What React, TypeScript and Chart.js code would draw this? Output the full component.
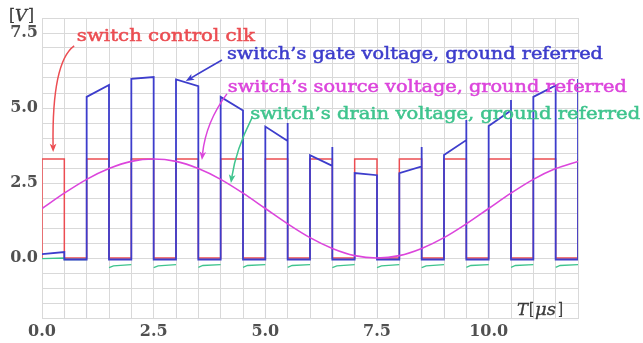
import { useEffect, useRef } from 'react';
import { Chart, registerables } from 'chart.js';

Chart.register(...registerables);

const SERIF = '"DejaVu Serif", "Liberation Serif", serif';

// Labelled ticks (everything in between only carries a grid line)
const timeTicks = [0, 2.5, 5, 7.5, 10];
const voltTicks = [0, 2.5, 5, 7.5];

// Switch control clock: edges in µs, levels in V
const clkRise = [0, 1, 2, 3, 4, 5, 6, 7, 8, 9, 10, 11, 12];
const clkFall = [0.5, 1.5, 2.5, 3.5, 4.5, 5.5, 6.5, 7.5, 8.5, 9.5, 10.5, 11.5];
const clkHigh = 3.3;
const clkLow = 0;

// Gate voltage: one bootstrapped pulse per clock-high phase
const gateRise = [1, 2, 3, 4, 5, 6, 7, 8, 9, 10, 11];
const gateFall = [1.5, 2.5, 3.5, 4.5, 5.5, 6.5, 7.5, 8.5, 9.5, 10.5, 11.5];
const gateStartV = [5.37, 5.97, 5.95, 5.37, 4.38, 3.43, 2.83, 2.83, 3.43, 4.4, 5.37];
const gateEndV = [5.77, 6.03, 5.73, 4.92, 3.9, 3.07, 2.76, 3.05, 3.93, 4.92, 5.75];
const gateFallTopV = [5.77, 6.03, 5.73, 4.92, 4.5, 3.7, 2.76, 3.7, 4.6, 5.27, 5.75];
const gateLowV = -0.05;
const gateFirstT = [0, 0.5];
const gateFirstV = [0.13, 0.2];
const gateLastT = 12;
const gateLastV = 5.97;

// Source voltage (sampled every 0.5 µs)
const srcT = [0, 0.5, 1, 1.5, 2, 2.5, 3, 3.5, 4, 4.5, 5, 5.5, 6, 6.5, 7, 7.5, 8, 8.5, 9, 9.5, 10, 10.5, 11, 11.5, 12];
const srcV = [1.65, 2.16, 2.62, 2.98, 3.22, 3.3, 3.22, 2.98, 2.62, 2.16, 1.65, 1.14, 0.68, 0.32, 0.08, 0.0, 0.08, 0.32, 0.68, 1.14, 1.65, 2.16, 2.62, 2.98, 3.22];

// Drain voltage while the switch is open (clock-low phases)
const drainFirstT = [0, 0.5, 0.5, 1];
const drainFirstV = [-0.02, 0.0, -0.05, -0.05];
const drainFrom = [1.5, 2.5, 3.5, 4.5, 5.5, 6.5, 7.5, 8.5, 9.5, 10.5, 11.5];
const drainKnee = [1.6, 2.6, 3.6, 4.6, 5.6, 6.6, 7.6, 8.6, 9.6, 10.6, 11.6];
const drainTo = [2, 3, 4, 5, 6, 7, 8, 9, 10, 11, 12];
const drainFromV = [-0.32, -0.32, -0.31, -0.31, -0.31, -0.32, -0.32, -0.32, -0.31, -0.31, -0.31];
const drainKneeV = [-0.26, -0.26, -0.25, -0.25, -0.25, -0.26, -0.26, -0.26, -0.25, -0.25, -0.25];
const drainToV = [-0.22, -0.22, -0.22, -0.22, -0.22, -0.22, -0.22, -0.22, -0.22, -0.22, -0.22];

const COLORS = {
  clk: '#ec4d52',
  gate: '#3d3dcc',
  source: '#dc45dc',
  drain: '#3fc48e',
};

type Pt = { x: number; y: number | null };

function clkPoints(): Pt[] {
  const pts: Pt[] = [];
  clkRise.forEach((r, i) => {
    pts.push({ x: r, y: clkLow }, { x: r, y: clkHigh });
    if (i < clkFall.length) pts.push({ x: clkFall[i], y: clkHigh }, { x: clkFall[i], y: clkLow });
  });
  return pts;
}

function gatePoints(): Pt[] {
  const pts: Pt[] = gateFirstT.map((t, i) => ({ x: t, y: gateFirstV[i] }));
  pts.push({ x: gateFirstT[1], y: gateLowV });
  gateRise.forEach((r, i) => {
    pts.push(
      { x: r, y: gateLowV },
      { x: r, y: gateStartV[i] },
      { x: gateFall[i], y: gateEndV[i] },
      { x: gateFall[i], y: gateFallTopV[i] },
      { x: gateFall[i], y: gateLowV },
    );
  });
  pts.push({ x: gateLastT, y: gateLowV }, { x: gateLastT, y: gateLastV });
  return pts;
}

function drainPoints(): Pt[] {
  const pts: Pt[] = drainFirstT.map((t, i) => ({ x: t, y: drainFirstV[i] }));
  drainFrom.forEach((f, i) => {
    pts.push({ x: f - 0.01, y: null });
    pts.push({ x: f, y: drainFromV[i] }, { x: drainKnee[i], y: drainKneeV[i] }, { x: drainTo[i], y: drainToV[i] });
  });
  return pts;
}

// Callout texts (anchor: left edge / vertical centre, in axis units) and their arrows
const notes = [
  { text: 'switch control clk', color: COLORS.clk, x: 0.78, y: 7.37, width: 178 },
  { text: 'switch\u2019s gate voltage, ground referred', color: COLORS.gate, x: 4.14, y: 6.77, width: 376 },
  { text: 'switch\u2019s source voltage, ground referred', color: COLORS.source, x: 4.16, y: 5.67, width: 399 },
  { text: 'switch\u2019s drain voltage, ground referred', color: COLORS.drain, x: 4.66, y: 4.77, width: 390 },
];

const arrows = [
  { color: COLORS.clk, from: [0.72, 7.07], via: [0.22, 6.53], to: [0.25, 3.53] },
  { color: COLORS.gate, from: [4.03, 6.6], via: [3.62, 6.25], to: [3.22, 5.9] },
  { color: COLORS.source, from: [4.14, 5.47], via: [3.67, 4.53], to: [3.58, 3.27] },
  { color: COLORS.drain, from: [4.7, 4.67], via: [4.34, 3.6], to: [4.23, 2.5] },
];

function fitText(
  ctx: CanvasRenderingContext2D,
  text: string,
  x: number,
  y: number,
  width: number,
  font: string,
  weight = 0,
) {
  ctx.font = font;
  const w = ctx.measureText(text).width;
  ctx.save();
  ctx.translate(x, y);
  ctx.scale(width / w, 1);
  ctx.fillText(text, 0, 0);
  if (weight > 0) {
    ctx.lineWidth = weight;
    ctx.strokeStyle = ctx.fillStyle;
    ctx.strokeText(text, 0, 0);
  }
  ctx.restore();
}

const calloutPlugin = {
  id: 'callouts',
  afterDatasetsDraw(chart: any) {
    const { ctx, scales, chartArea } = chart;
    const px = (v: number) => scales.x.getPixelForValue(v);
    const py = (v: number) => scales.y.getPixelForValue(v);
    ctx.save();
    ctx.textBaseline = 'middle';
    ctx.textAlign = 'left';

    notes.forEach((n) => {
      ctx.fillStyle = n.color;
      fitText(ctx, n.text, px(n.x), py(n.y), n.width, `17px ${SERIF}`, 0.5);
    });

    arrows.forEach((a) => {
      const [fx, fy] = [px(a.from[0]), py(a.from[1])];
      const [cx, cy] = [px(a.via[0]), py(a.via[1])];
      const [tx, ty] = [px(a.to[0]), py(a.to[1])];
      ctx.strokeStyle = a.color;
      ctx.fillStyle = a.color;
      ctx.lineWidth = 1.5;
      const ang = Math.atan2(ty - cy, tx - cx);
      const len = 9;
      const bx = tx - Math.cos(ang) * len * 0.7;
      const by = ty - Math.sin(ang) * len * 0.7;
      ctx.beginPath();
      ctx.moveTo(fx, fy);
      ctx.quadraticCurveTo(cx, cy, bx, by);
      ctx.stroke();
      ctx.beginPath();
      ctx.moveTo(tx, ty);
      ctx.lineTo(tx - Math.cos(ang - 0.38) * len, ty - Math.sin(ang - 0.38) * len);
      ctx.lineTo(bx, by);
      ctx.lineTo(tx - Math.cos(ang + 0.38) * len, ty - Math.sin(ang + 0.38) * len);
      ctx.closePath();
      ctx.fill();
    });

    // axis titles
    ctx.fillStyle = '#3a3a3a';
    fitText(ctx, '[', chartArea.left - 33, chartArea.top - 1, 6, `16px ${SERIF}`, 0.3);
    fitText(ctx, 'V', chartArea.left - 27, chartArea.top - 1, 12, `italic 16px ${SERIF}`, 0.3);
    fitText(ctx, ']', chartArea.left - 14, chartArea.top - 1, 6, `16px ${SERIF}`, 0.3);

    const tx0 = chartArea.right - 61;
    const ty0 = chartArea.bottom - 7;
    fitText(ctx, 'T', tx0, ty0, 11, `italic 16px ${SERIF}`, 0.3);
    fitText(ctx, '[', tx0 + 12, ty0, 5, `16px ${SERIF}`, 0.3);
    fitText(ctx, '\u03bcs', tx0 + 18, ty0, 21, `italic 16px ${SERIF}`, 0.3);
    fitText(ctx, ']', tx0 + 41, ty0, 5, `16px ${SERIF}`, 0.3);
    ctx.restore();
  },
};

const near = (list: number[], v: number) => list.some((t) => Math.abs(t - v) < 1e-6);

export default function App() {
  const ref = useRef<HTMLCanvasElement>(null);

  useEffect(() => {
    document.body.style.margin = '0';
    const canvas = ref.current;
    if (!canvas) return;
    const gridColor = '#d9d9d9';
    const tickFont = { family: SERIF, size: 16, weight: 'bold' as const };

    const chart = new Chart(canvas, {
      type: 'line',
      data: {
        datasets: [
          {
            label: 'source',
            data: srcT.map((t, i) => ({ x: t, y: srcV[i] })),
            borderColor: COLORS.source,
            borderWidth: 1.6,
            cubicInterpolationMode: 'monotone',
          },
          {
            label: 'gate',
            data: gatePoints(),
            borderColor: COLORS.gate,
            borderWidth: 1.8,
          },
          {
            label: 'drain',
            data: drainPoints(),
            borderColor: COLORS.drain,
            borderWidth: 1.3,
            spanGaps: false,
          },
          {
            label: 'clk',
            data: clkPoints(),
            borderColor: COLORS.clk,
            borderWidth: 1.5,
          },
        ] as any,
      },
      options: {
        responsive: false,
        animation: false,
        devicePixelRatio: 1,
        layout: { padding: { left: 0, right: 65, top: 18, bottom: 0 } },
        elements: { point: { radius: 0 }, line: { tension: 0 } },
        plugins: { legend: { display: false }, tooltip: { enabled: false } },
        scales: {
          x: {
            type: 'linear',
            min: 0,
            max: 12,
            grid: { color: gridColor, drawTicks: false, lineWidth: 1 },
            border: { color: gridColor },
            ticks: {
              stepSize: 0.5,
              autoSkip: false,
              maxRotation: 0,
              padding: 4,
              color: '#505050',
              font: tickFont,
              callback: (v: any) => (near(timeTicks, Number(v)) ? Number(v).toFixed(1) : ''),
            },
            afterFit: (s: any) => {
              s.height = 25;
              s.paddingLeft = 0;
              s.paddingRight = 0;
            },
          },
          y: {
            type: 'linear',
            min: -2,
            max: 8,
            grid: { color: gridColor, drawTicks: false, lineWidth: 1 },
            border: { color: gridColor },
            ticks: {
              stepSize: 0.5,
              autoSkip: false,
              padding: 4,
              color: '#505050',
              font: tickFont,
              callback: (v: any) => (near(voltTicks, Number(v)) ? Number(v).toFixed(1) : ''),
            },
            afterFit: (s: any) => {
              s.width = 42;
              s.paddingTop = 0;
              s.paddingBottom = 0;
            },
          },
        },
      },
      plugins: [calloutPlugin],
    });

    return () => chart.destroy();
  }, []);

  return (
    <div style={{ position: 'absolute', left: 0, top: 0, width: 643, height: 343, background: '#fff' }}>
      <canvas ref={ref} width={643} height={343} style={{ display: 'block' }} />
    </div>
  );
}
